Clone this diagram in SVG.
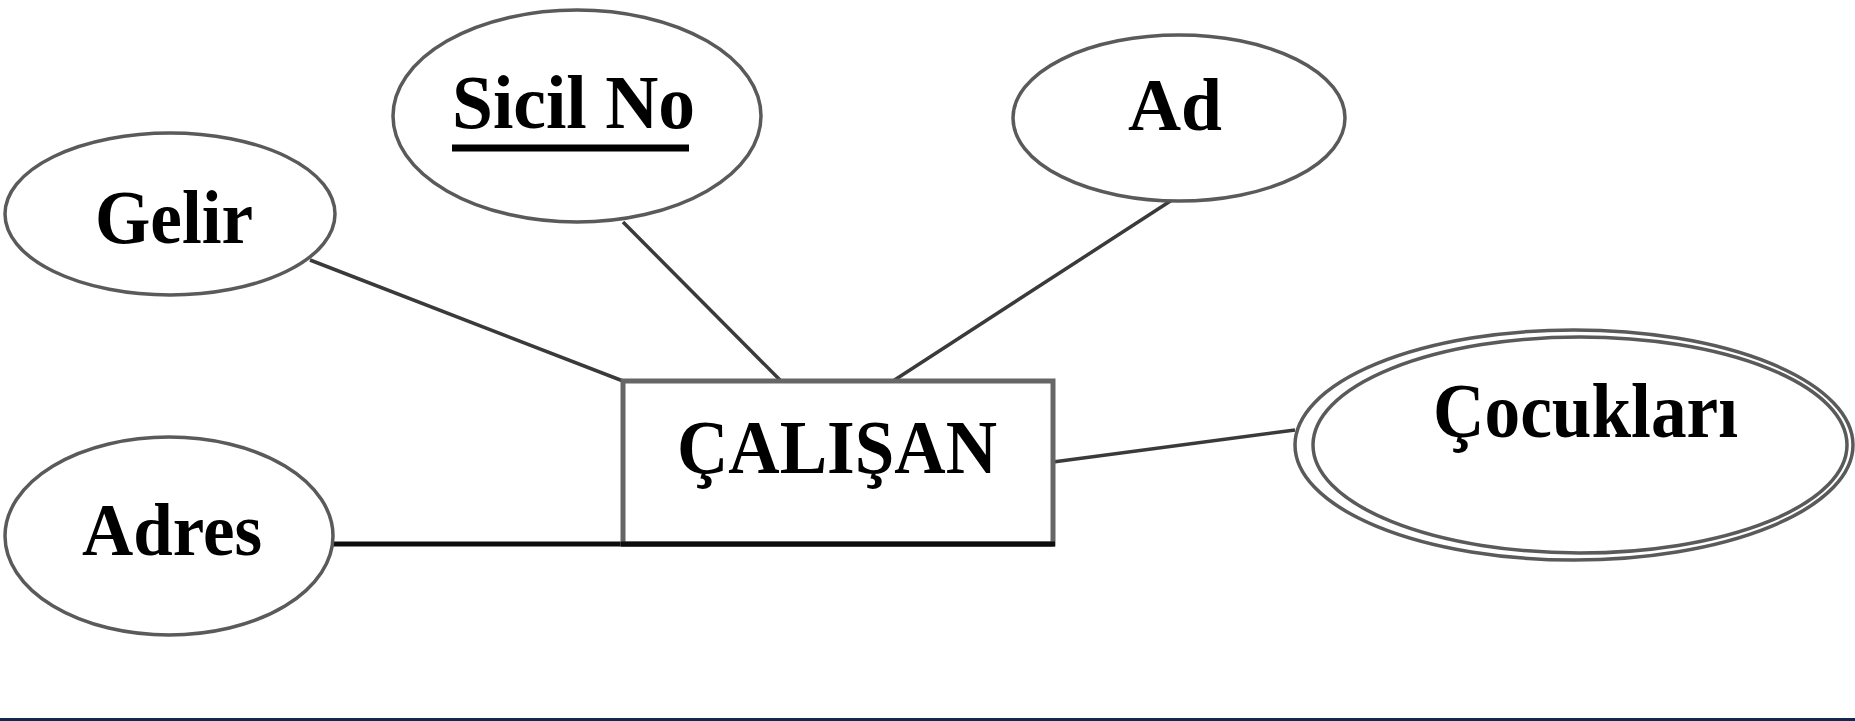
<svg xmlns="http://www.w3.org/2000/svg" width="1855" height="721" viewBox="0 0 1855 721">
<style>
.attr{fill:#fff;stroke:#5a5a5a;stroke-width:3.5}
.lbl{font-family:"Liberation Serif","Times New Roman",serif;font-weight:bold;fill:#000}
.con{stroke:#3a3a3a;stroke-width:3.5;fill:none}
</style>
<rect x="0" y="0" width="1855" height="721" fill="#fff"/>
<g id="connectors">
<line class="con" x1="310" y1="260" x2="623" y2="381"/>
<line class="con" x1="623" y1="222" x2="781" y2="381"/>
<line class="con" x1="1172" y1="200" x2="893" y2="381"/>
<line class="con" x1="1053" y1="462" x2="1295" y2="430"/>
<line x1="333" y1="544" x2="1053" y2="544" stroke="#0d0d0d" stroke-width="5"/>
</g>
<g id="calisan">
<rect x="623" y="381" width="430" height="163" fill="#fff" stroke="#666" stroke-width="5"/>
<line x1="621" y1="544" x2="1055" y2="544" stroke="#0d0d0d" stroke-width="5"/>
<text class="lbl" x="677" y="473" font-size="77" textLength="320" lengthAdjust="spacingAndGlyphs">ÇALIŞAN</text>
</g>
<g id="gelir">
<ellipse class="attr" cx="170" cy="214" rx="165" ry="81"/>
<text class="lbl" x="95" y="243" font-size="77" textLength="158" lengthAdjust="spacingAndGlyphs">Gelir</text>
</g>
<g id="sicilno">
<ellipse class="attr" cx="577" cy="116" rx="184" ry="106"/>
<text class="lbl" x="452" y="128" font-size="77" textLength="243" lengthAdjust="spacingAndGlyphs">Sicil No</text>
<line x1="452" y1="148" x2="689" y2="148" stroke="#000" stroke-width="7"/>
</g>
<g id="ad">
<ellipse class="attr" cx="1179" cy="118" rx="166" ry="83"/>
<text class="lbl" x="1128" y="130" font-size="75" textLength="94" lengthAdjust="spacingAndGlyphs">Ad</text>
</g>
<g id="adres">
<ellipse class="attr" cx="169" cy="536" rx="164" ry="99"/>
<text class="lbl" x="82" y="555" font-size="75" textLength="180" lengthAdjust="spacingAndGlyphs">Adres</text>
</g>
<g id="cocuklari">
<ellipse class="attr" cx="1574" cy="445" rx="279" ry="115"/>
<ellipse class="attr" cx="1580" cy="445" rx="267" ry="108"/>
<text class="lbl" x="1433" y="437" font-size="78" textLength="305" lengthAdjust="spacingAndGlyphs">Çocukları</text>
</g>
<rect x="0" y="718" width="1855" height="3" fill="#13284f"/>
</svg>
